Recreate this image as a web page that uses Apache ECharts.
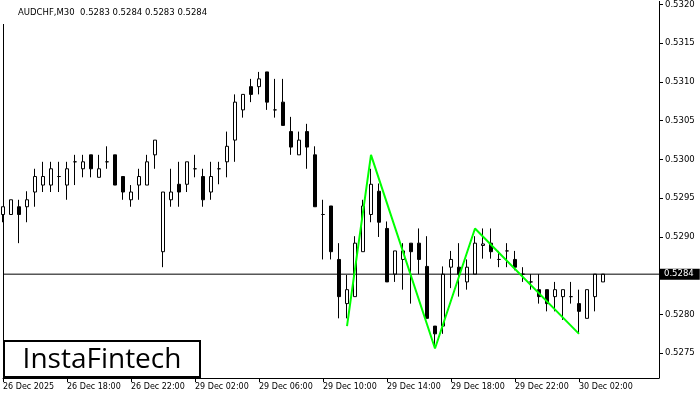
<!DOCTYPE html>
<html>
<head>
<meta charset="utf-8">
<script src="https://cdn.jsdelivr.net/npm/echarts@6/dist/echarts.min.js"></script>
<style>html,body{margin:0;padding:0;background:#fff;}#c{width:700px;height:400px;}</style>
</head>
<body>
<div id="c"></div>
<script>
// ---- data ----
const symbolText = 'AUDCHF,M30';
const ohlcText = '0.5283 0.5284 0.5283 0.5284';
const lastPriceText = '0.5284';
const bidLine = 0.52852;

const opens  = [0.52929,0.52929,0.52939,0.52939,0.52958,0.52967,0.52967,0.52978,0.52967,0.52997,
                0.52988,0.53006,0.52977,0.52997,0.53006,0.52978,0.52948,0.52967,0.52967,0.53006,
                0.52881,0.52948,0.52968,0.52968,0.52988,0.52978,0.52958,0.52988,0.52997,0.53025,
                0.53064,0.53094,0.53094,0.53113,0.53064,0.53074,0.53036,0.53006,0.53036,0.53006,
                0.52929,0.52940,0.52871,0.52814,0.52823,0.52881,0.52929,0.52959,0.52911,0.52852,
                0.52871,0.52892,0.52892,0.52862,0.52785,0.52785,0.52861,0.52861,0.52842,0.52852,
                0.52889,0.52892,0.52871,0.52882,0.52871,0.52852,0.52842,0.52832,0.52832,0.52823,
                0.52823,0.52823,0.52814,0.52795,0.52823,0.52842];
const highs  = [0.52939,0.52948,0.52948,0.52959,0.52988,0.52997,0.52997,0.52997,0.52997,0.53006,
                0.53006,0.53006,0.53006,0.53017,0.53006,0.52978,0.52967,0.52988,0.53006,0.53025,
                0.52958,0.52988,0.52997,0.52997,0.53006,0.52988,0.52997,0.52997,0.53036,0.53084,
                0.53084,0.53104,0.53113,0.53113,0.53104,0.53104,0.53055,0.53036,0.53046,0.53017,
                0.52948,0.52940,0.52892,0.52851,0.52901,0.52948,0.52988,0.52969,0.52920,0.52882,
                0.52892,0.52892,0.52911,0.52901,0.52785,0.52862,0.52882,0.52892,0.52871,0.52901,
                0.52911,0.52911,0.52882,0.52892,0.52882,0.52861,0.52852,0.52852,0.52832,0.52842,
                0.52832,0.52842,0.52832,0.52832,0.52852,0.52852];
const lows   = [0.52919,0.52929,0.52892,0.52919,0.52939,0.52958,0.52958,0.52958,0.52948,0.52967,
                0.52977,0.52977,0.52977,0.52988,0.52967,0.52948,0.52939,0.52948,0.52967,0.52988,
                0.52861,0.52939,0.52939,0.52958,0.52977,0.52939,0.52948,0.52968,0.52977,0.52997,
                0.53054,0.53074,0.53084,0.53064,0.53054,0.53044,0.53006,0.53006,0.52988,0.52939,
                0.52871,0.52871,0.52795,0.52795,0.52823,0.52881,0.52919,0.52900,0.52842,0.52842,
                0.52832,0.52814,0.52852,0.52795,0.52759,0.52775,0.52834,0.52823,0.52832,0.52852,
                0.52872,0.52872,0.52861,0.52861,0.52857,0.52842,0.52832,0.52814,0.52804,0.52804,
                0.52793,0.52814,0.52775,0.52795,0.52804,0.52842];
const closes = [0.52939,0.52948,0.52929,0.52948,0.52978,0.52978,0.52988,0.52978,0.52988,0.52997,
                0.52997,0.52988,0.52988,0.52997,0.52967,0.52958,0.52958,0.52978,0.52997,0.53025,
                0.52958,0.52958,0.52958,0.52997,0.52988,0.52948,0.52978,0.52988,0.53017,0.53074,
                0.53084,0.53084,0.53104,0.53074,0.53064,0.53044,0.53016,0.53025,0.53016,0.52939,
                0.52929,0.52881,0.52823,0.52832,0.52892,0.52940,0.52968,0.52919,0.52842,0.52882,
                0.52882,0.52881,0.52871,0.52795,0.52775,0.52852,0.52871,0.52852,0.52861,0.52892,
                0.52891,0.52881,0.52871,0.52882,0.52861,0.52852,0.52842,0.52823,0.52814,0.52832,
                0.52832,0.52823,0.52804,0.52832,0.52852,0.52852];

// pattern drawn in green (candle index, price)
const patternIdx = [43, 46, 54, 59, 72];
const patternVal = [0.52785, 0.53006, 0.52756, 0.52911, 0.52775];

// price-axis tick labels
const priceTicks = [0.5275,0.5280,0.5285,0.5290,0.5295,0.5300,0.5305,0.5310,0.5315,0.5320];
// time-axis tick labels (every 8 bars = 4 hours)
const tickLabels = ['26 Dec 2025','26 Dec 18:00','26 Dec 22:00','29 Dec 02:00','29 Dec 06:00',
                    '29 Dec 10:00','29 Dec 14:00','29 Dec 18:00','29 Dec 22:00','30 Dec 02:00'];
const tickEvery = 8;

// half-hour bar times (trading sessions; weekend skipped), plus empty future slots
const sessions = [['26 Dec', 28, 20], ['29 Dec', 0, 48], ['30 Dec', 0, 15]];
const times = [];
sessions.forEach(([d, s, n]) => {
  for (let k = 0; k < n; k++) {
    const m = (s + k) * 30;
    times.push(d + ' ' + String(Math.floor(m / 60)).padStart(2, '0') + ':' + String(m % 60).padStart(2, '0'));
  }
});

const candleData = opens.map((o, i) => [o, closes[i], lows[i], highs[i]]);
const patternData = opens.map(() => null);
patternIdx.forEach((ix, k) => { patternData[ix] = patternVal[k]; });
const bidData = times.map(() => bidLine);

const FONT = 'DejaVu Sans';
const chart = echarts.init(document.getElementById('c'), null, {renderer: 'canvas'});
chart.setOption({
  animation: false,
  backgroundColor: '#fff',
  title: {
    text: symbolText + '  ' + ohlcText,
    left: 0, top: 0,
    padding: [8, 4, 7, 18],
    backgroundColor: '#fff',
    textStyle: {fontFamily: FONT, fontSize: 8.5, fontWeight: 'normal', color: '#000'}
  },
  grid: {left: 3, right: 41, top: 0, bottom: 22},
  xAxis: {
    type: 'category',
    data: times,
    boundaryGap: false,
    axisLine: {show: true, lineStyle: {color: '#000', width: 1}},
    axisTick: {show: true, length: 4, lineStyle: {color: '#000'},
      interval: (i) => i % tickEvery === 0 && i / tickEvery < tickLabels.length},
    axisLabel: {
      interval: 0, align: 'left', margin: 5,
      fontFamily: FONT, fontSize: 8, color: '#000',
      formatter: (v, i) => (i % tickEvery === 0 && i / tickEvery < tickLabels.length) ? tickLabels[i / tickEvery] : ''
    },
    splitLine: {show: false}
  },
  yAxis: [{
    type: 'value',
    position: 'right',
    min: 0.52718, max: 0.53204,
    axisLine: {show: true, lineStyle: {color: '#000', width: 1}},
    axisTick: {show: true, length: 4, customValues: priceTicks, lineStyle: {color: '#000'}},
    axisLabel: {customValues: priceTicks, margin: 6, fontFamily: FONT, fontSize: 8.5, color: '#000',
      formatter: (v) => v.toFixed(4), padding: [3, 0, 0, 0]},
    splitLine: {show: false}
  }, {
    type: 'value',
    position: 'left',
    min: 0.52718, max: 0.53204,
    axisLine: {show: true, lineStyle: {color: '#000', width: 1}},
    axisTick: {show: false}, axisLabel: {show: false}, splitLine: {show: false}
  }],
  series: [{
    type: 'candlestick',
    data: candleData,
    barWidth: 4,
    itemStyle: {color: '#fff', color0: '#000', borderColor: '#000', borderColor0: '#000', borderColorDoji: '#000', borderWidth: 1}
  }, {
    type: 'line',
    data: patternData,
    connectNulls: true,
    symbol: 'none',
    lineStyle: {color: '#00ff00', width: 2},
    z: 5
  }, {
    type: 'line',
    data: bidData,
    symbol: 'none',
    silent: true,
    lineStyle: {color: '#000', width: 1},
    z: 4,
    endLabel: {show: true, distance: 1, formatter: () => lastPriceText,
      backgroundColor: '#000', color: '#fff', fontFamily: FONT, fontSize: 8.5, padding: [1, 6, 1, 4]}
  }],
  graphic: [{
    type: 'rect',
    shape: {x: 4, y: 341, width: 196, height: 36},
    style: {fill: '#fff', stroke: '#000', lineWidth: 2},
    z: 100
  }, {
    type: 'text',
    style: {x: 102, y: 360, text: 'InstaFintech', align: 'center', verticalAlign: 'middle',
      font: '500 28px "Open Sans"', fill: '#000'},
    z: 101
  }]
});
</script>
</body>
</html>
